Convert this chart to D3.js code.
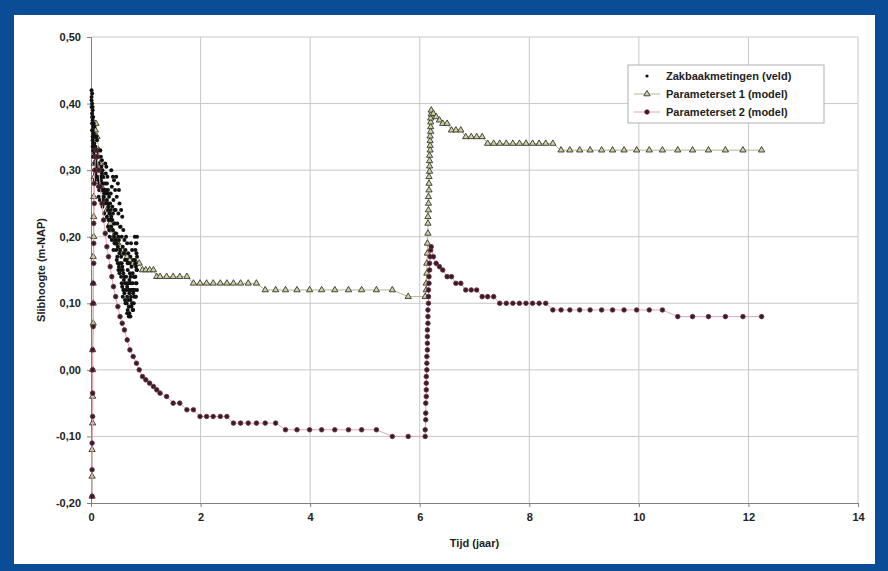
<!DOCTYPE html>
<html>
<head>
<meta charset="utf-8">
<script src="https://d3js.org/d3.v7.min.js"></script>
<style>
  body { margin: 0; background: #fff; }
  text { font-family: "Liberation Sans", Arial, sans-serif; font-weight: bold; fill: #222; }
</style>
</head>
<body>
<div id="chart"></div>
<script>
// tick values
var xTicks = [0, 2, 4, 6, 8, 10, 12, 14];
var yTicks = [-0.2, -0.1, 0, 0.1, 0.2, 0.3, 0.4, 0.5];

// Zakbaakmetingen (veld): [tijd, hoogte]
var field = [
  [0.01,0.42],[0.02,0.415],[0.01,0.405],[0.02,0.40],[0.03,0.39],[0.02,0.385],[0.03,0.375],[0.02,0.37],
  [0.03,0.36],[0.04,0.355],[0.03,0.35],[0.04,0.34],[0.04,0.33],[0.03,0.395],[0.04,0.38],
  [0.01,0.41],[0.01,0.395],[0.02,0.38],[0.02,0.36],[0.03,0.345],[0.03,0.335],[0.04,0.365],[0.04,0.32],
  [0.05,0.37],[0.06,0.365],[0.05,0.355],[0.07,0.35],[0.06,0.34],[0.08,0.335],[0.07,0.325],[0.05,0.32],
  [0.08,0.31],[0.09,0.30],[0.06,0.30],[0.09,0.29],[0.07,0.285],
  [0.05,0.34],[0.06,0.325],[0.07,0.31],[0.08,0.32],[0.09,0.315],[0.08,0.295],
  [0.10,0.35],[0.11,0.345],[0.12,0.33],[0.10,0.325],[0.13,0.32],[0.14,0.31],[0.11,0.305],[0.15,0.30],
  [0.12,0.29],[0.16,0.285],[0.13,0.275],[0.15,0.27],[0.14,0.26],[0.16,0.255],
  [0.10,0.31],[0.11,0.29],[0.12,0.31],[0.13,0.30],[0.14,0.285],[0.15,0.28],[0.16,0.27],
  [0.17,0.33],[0.18,0.32],[0.20,0.315],[0.19,0.305],[0.21,0.30],[0.22,0.29],[0.18,0.285],[0.23,0.28],
  [0.20,0.27],[0.24,0.265],[0.22,0.255],[0.25,0.25],[0.21,0.245],[0.24,0.235],[0.23,0.225],
  [0.17,0.30],[0.19,0.29],[0.20,0.295],[0.21,0.28],[0.22,0.27],[0.23,0.26],[0.25,0.27],
  [0.26,0.31],[0.28,0.305],[0.27,0.295],[0.30,0.29],[0.29,0.28],[0.31,0.27],[0.27,0.265],[0.33,0.26],
  [0.30,0.25],[0.32,0.245],[0.34,0.235],[0.29,0.23],[0.35,0.225],[0.31,0.215],[0.33,0.21],[0.34,0.20],
  [0.26,0.28],[0.28,0.27],[0.29,0.255],[0.30,0.265],[0.31,0.24],[0.32,0.225],
  [0.37,0.30],[0.40,0.29],[0.42,0.285],[0.38,0.275],[0.44,0.27],[0.36,0.265],[0.41,0.255],[0.39,0.245],
  [0.43,0.24],[0.37,0.23],[0.42,0.22],[0.40,0.21],[0.44,0.205],[0.38,0.195],[0.43,0.19],[0.41,0.18],
  [0.35,0.25],[0.36,0.24],[0.37,0.215],[0.39,0.225],[0.40,0.235],[0.42,0.20],[0.44,0.22],
  [0.46,0.29],[0.49,0.28],[0.51,0.27],[0.47,0.26],[0.52,0.25],[0.45,0.24],[0.50,0.235],[0.48,0.22],
  [0.53,0.215],[0.46,0.205],[0.51,0.195],[0.49,0.185],[0.52,0.175],[0.47,0.165],[0.53,0.16],[0.50,0.15],
  [0.45,0.195],[0.46,0.18],[0.47,0.19],[0.48,0.17],[0.49,0.16],[0.50,0.20],[0.51,0.155],[0.52,0.145],[0.53,0.18],
  [0.55,0.24],[0.57,0.23],[0.54,0.215],[0.59,0.21],[0.56,0.20],[0.61,0.195],[0.58,0.185],[0.60,0.175],
  [0.55,0.17],[0.62,0.165],[0.57,0.155],[0.59,0.145],[0.61,0.14],[0.56,0.13],[0.60,0.12],[0.58,0.11],[0.62,0.105],
  [0.54,0.15],[0.55,0.14],[0.56,0.16],[0.57,0.125],[0.58,0.15],[0.59,0.12],[0.60,0.135],[0.61,0.115],[0.62,0.13],
  [0.64,0.20],[0.66,0.19],[0.63,0.18],[0.68,0.175],[0.65,0.165],[0.70,0.16],[0.67,0.15],[0.71,0.145],
  [0.64,0.14],[0.69,0.13],[0.66,0.125],[0.70,0.115],[0.68,0.105],[0.65,0.10],[0.71,0.095],[0.67,0.09],[0.69,0.08],
  [0.63,0.10],[0.64,0.12],[0.65,0.13],[0.66,0.11],[0.67,0.16],[0.68,0.12],[0.69,0.095],[0.70,0.135],[0.71,0.12],
  [0.70,0.085],[0.66,0.085],
  [0.73,0.19],[0.75,0.18],[0.72,0.17],[0.77,0.165],[0.74,0.155],[0.76,0.145],[0.78,0.14],[0.73,0.13],
  [0.75,0.12],[0.77,0.115],[0.72,0.105],[0.74,0.095],[0.76,0.09],[0.78,0.10],
  [0.72,0.14],[0.73,0.11],[0.74,0.12],[0.75,0.10],[0.76,0.13],[0.77,0.09],[0.78,0.12],[0.72,0.08],
  [0.80,0.20],[0.82,0.19],[0.81,0.18],[0.83,0.175],[0.80,0.165],[0.82,0.155],[0.84,0.15],[0.81,0.14],
  [0.83,0.13],[0.80,0.12],[0.82,0.11],
  [0.79,0.11],[0.80,0.14],[0.81,0.16],[0.82,0.13],[0.83,0.15],[0.84,0.17],[0.84,0.12],[0.83,0.19],[0.84,0.20]
];

// Parameterset 1 (model)
var ps1 = [
  [0.02,-0.19],[0.02,-0.16],[0.02,-0.12],[0.03,-0.08],[0.03,-0.04],[0.03,0.00],[0.03,0.03],[0.04,0.07],
  [0.04,0.10],[0.04,0.13],[0.04,0.17],[0.05,0.20],[0.05,0.23],[0.05,0.26],[0.06,0.29],[0.06,0.31],
  [0.07,0.33],[0.07,0.35],[0.08,0.36],[0.09,0.37],
  [0.11,0.35],[0.14,0.33],[0.17,0.31],[0.20,0.29],[0.23,0.27],[0.26,0.255],[0.29,0.24],[0.32,0.23],
  [0.35,0.22],[0.38,0.21],[0.41,0.20],[0.45,0.195],[0.49,0.19],[0.53,0.185],[0.57,0.18],[0.61,0.175],
  [0.66,0.17],[0.71,0.165],[0.77,0.16],[0.83,0.16],[0.88,0.16],[0.94,0.15],[1.00,0.15],[1.07,0.15],
  [1.14,0.15],[1.20,0.14],[1.26,0.14],[1.38,0.14],[1.50,0.14],[1.62,0.14],[1.75,0.14],
  [1.87,0.13],[1.99,0.13],[2.11,0.13],[2.23,0.13],[2.36,0.13],[2.48,0.13],[2.60,0.13],[2.73,0.13],
  [2.87,0.13],[3.02,0.13],
  [3.18,0.12],[3.37,0.12],[3.55,0.12],[3.76,0.12],[3.99,0.12],[4.21,0.12],[4.45,0.12],[4.70,0.12],
  [4.94,0.12],[5.21,0.12],[5.50,0.12],[5.79,0.11],[6.10,0.11],
  [6.12,0.12],[6.12,0.13],[6.13,0.145],[6.13,0.16],[6.14,0.175],[6.14,0.19],[6.15,0.205],[6.15,0.22],
  [6.15,0.23],[6.16,0.24],[6.16,0.25],[6.16,0.26],[6.17,0.27],[6.17,0.28],[6.17,0.29],[6.18,0.298],
  [6.18,0.306],[6.18,0.314],[6.18,0.322],[6.19,0.33],[6.19,0.337],[6.19,0.344],[6.19,0.351],[6.20,0.358],
  [6.20,0.365],[6.20,0.372],[6.20,0.378],[6.21,0.384],[6.21,0.39],
  [6.25,0.385],[6.30,0.38],[6.36,0.375],[6.42,0.37],[6.50,0.37],[6.58,0.36],[6.66,0.36],[6.75,0.36],
  [6.84,0.35],[6.94,0.35],[7.04,0.35],[7.14,0.35],[7.24,0.34],[7.35,0.34],[7.46,0.34],[7.58,0.34],
  [7.70,0.34],[7.82,0.34],[7.94,0.34],[8.06,0.34],[8.18,0.34],[8.30,0.34],[8.43,0.34],
  [8.58,0.33],[8.74,0.33],[8.92,0.33],[9.11,0.33],[9.32,0.33],[9.52,0.33],[9.73,0.33],[9.96,0.33],
  [10.19,0.33],[10.43,0.33],[10.71,0.33],[10.98,0.33],[11.27,0.33],[11.58,0.33],[11.90,0.33],[12.24,0.33]
];

// Parameterset 2 (model)
var ps2 = [
  [0.02,-0.19],[0.02,-0.15],[0.02,-0.11],[0.03,-0.07],[0.03,-0.035],[0.03,0.00],[0.03,0.03],[0.04,0.065],
  [0.04,0.10],[0.04,0.13],[0.05,0.16],[0.05,0.19],[0.05,0.22],[0.06,0.25],[0.06,0.28],[0.07,0.30],
  [0.08,0.32],[0.09,0.33],
  [0.11,0.32],[0.14,0.30],[0.17,0.275],[0.20,0.25],[0.23,0.225],[0.26,0.205],[0.29,0.185],[0.32,0.17],
  [0.35,0.155],[0.38,0.14],[0.41,0.125],[0.45,0.11],[0.49,0.095],[0.53,0.08],[0.57,0.07],[0.61,0.06],
  [0.66,0.045],[0.71,0.03],[0.77,0.02],[0.83,0.01],[0.88,0.00],[0.94,-0.01],[1.00,-0.015],[1.07,-0.02],
  [1.14,-0.025],[1.20,-0.03],[1.26,-0.035],[1.38,-0.04],[1.50,-0.05],[1.62,-0.05],[1.75,-0.06],[1.87,-0.06],
  [1.99,-0.07],[2.11,-0.07],[2.23,-0.07],[2.36,-0.07],[2.48,-0.07],[2.60,-0.08],[2.73,-0.08],[2.87,-0.08],
  [3.02,-0.08],[3.18,-0.08],[3.37,-0.08],[3.55,-0.09],[3.76,-0.09],[3.99,-0.09],[4.21,-0.09],[4.45,-0.09],
  [4.70,-0.09],[4.94,-0.09],[5.21,-0.09],[5.50,-0.10],[5.79,-0.10],[6.10,-0.10],
  [6.10,-0.09],[6.11,-0.075],[6.11,-0.065],[6.11,-0.05],[6.12,-0.04],[6.12,-0.03],[6.12,-0.02],[6.12,-0.01],
  [6.13,0.00],[6.13,0.01],[6.13,0.02],[6.14,0.03],[6.14,0.04],[6.14,0.05],[6.14,0.06],[6.15,0.07],
  [6.15,0.08],[6.15,0.09],[6.16,0.10],[6.16,0.11],[6.16,0.12],[6.17,0.13],[6.17,0.14],[6.18,0.15],
  [6.18,0.16],[6.19,0.17],[6.20,0.18],[6.21,0.185],
  [6.25,0.17],[6.30,0.16],[6.36,0.155],[6.42,0.15],[6.50,0.14],[6.58,0.14],[6.66,0.13],[6.75,0.13],
  [6.84,0.12],[6.94,0.12],[7.04,0.12],[7.14,0.11],[7.24,0.11],[7.35,0.11],[7.46,0.10],[7.58,0.10],
  [7.70,0.10],[7.82,0.10],[7.94,0.10],[8.06,0.10],[8.18,0.10],[8.30,0.10],[8.43,0.09],[8.58,0.09],
  [8.74,0.09],[8.92,0.09],[9.11,0.09],[9.32,0.09],[9.52,0.09],[9.73,0.09],[9.96,0.09],[10.19,0.09],
  [10.43,0.09],[10.71,0.08],[10.98,0.08],[11.27,0.08],[11.58,0.08],[11.90,0.08],[12.24,0.08]
];

var legendNames = ["Zakbaakmetingen (veld)", "Parameterset 1 (model)", "Parameterset 2 (model)"];

var W = 888, H = 571;
var margin = {top: 37, right: 30, bottom: 68, left: 91},
    width = W - margin.left - margin.right,
    height = H - margin.top - margin.bottom;

var root = d3.select("#chart").append("svg")
    .attr("width", W)
    .attr("height", H);

// blue frame
root.append("rect").attr("width", W).attr("height", H).attr("fill", "#0b4c97");
root.append("rect").attr("x", 14).attr("y", 15).attr("width", 861).attr("height", 549).attr("fill", "#fff");

var svg = root.append("g")
    .attr("transform", "translate(" + margin.left + "," + margin.top + ")");

var x = d3.scaleLinear().domain([0, 14]).range([0, width]);
var y = d3.scaleLinear().domain([-0.2, 0.5]).range([height, 0]);

var fmt = function(d) { return d.toFixed(2).replace(".", ","); };

// grid
svg.append("g").selectAll("line").data(xTicks.slice(1)).enter().append("line")
    .attr("x1", function(d) { return x(d); }).attr("x2", function(d) { return x(d); })
    .attr("y1", 0).attr("y2", height)
    .attr("stroke", "#c8c8c8").attr("stroke-width", 1);
svg.append("g").selectAll("line").data(yTicks.slice(1)).enter().append("line")
    .attr("x1", 0).attr("x2", width)
    .attr("y1", function(d) { return y(d); }).attr("y2", function(d) { return y(d); })
    .attr("stroke", "#c8c8c8").attr("stroke-width", 1);

// axes
var xAxis = svg.append("g")
    .attr("transform", "translate(0," + height + ")")
    .call(d3.axisBottom(x).tickValues(xTicks).tickSize(4).tickPadding(6).tickFormat(d3.format("d")));
var yAxis = svg.append("g")
    .call(d3.axisLeft(y).tickValues(yTicks).tickSize(4).tickPadding(6).tickFormat(fmt));
[xAxis, yAxis].forEach(function(a) {
  a.select(".domain").attr("stroke", "#808080");
  a.selectAll(".tick line").attr("stroke", "#808080");
  a.selectAll("text").style("font-size", "11px").style("font-family", "Liberation Sans, Arial, sans-serif")
    .style("font-weight", "bold").attr("fill", "#222");
});

svg.append("text")
    .attr("x", width / 2).attr("y", height + 44)
    .attr("text-anchor", "middle").style("font-size", "11px")
    .text("Tijd (jaar)");
svg.append("text")
    .attr("transform", "translate(-46," + (height / 2) + ") rotate(-90)")
    .attr("text-anchor", "middle").style("font-size", "11px")
    .text("Slibhoogte (m-NAP)");

var plot = svg.append("g");

var line = d3.line().x(function(d) { return x(d[0]); }).y(function(d) { return y(d[1]); });
var tri = d3.symbol().type(d3.symbolTriangle).size(17);

var ps1Fill = "#d0d49c", ps1Line = "#b4b494";
var ps2Fill = "#3a1c26", ps2Stroke = "#6a3040", ps2Line = "#e0a8b4";

// parameterset 1
plot.append("path").datum(ps1).attr("d", line)
    .attr("fill", "none").attr("stroke", ps1Line).attr("stroke-width", 1);
plot.selectAll(".ps1").data(ps1).enter().append("path")
    .attr("class", "ps1")
    .attr("d", tri)
    .attr("transform", function(d) { return "translate(" + x(d[0]) + "," + y(d[1]) + ")"; })
    .attr("fill", ps1Fill).attr("stroke", "#333").attr("stroke-width", 0.9);

// field data
plot.selectAll(".veld").data(field).enter().append("circle")
    .attr("class", "veld")
    .attr("cx", function(d) { return x(d[0]); })
    .attr("cy", function(d) { return y(d[1]); })
    .attr("r", 2)
    .attr("fill", "#111");

// parameterset 2
plot.append("path").datum(ps2).attr("d", line)
    .attr("fill", "none").attr("stroke", ps2Line).attr("stroke-width", 1);
plot.selectAll(".ps2").data(ps2).enter().append("circle")
    .attr("class", "ps2")
    .attr("cx", function(d) { return x(d[0]); })
    .attr("cy", function(d) { return y(d[1]); })
    .attr("r", 2.3)
    .attr("fill", ps2Fill).attr("stroke", ps2Stroke).attr("stroke-width", 0.8);

// legend
var lg = root.append("g").attr("transform", "translate(628,65)");
lg.append("rect").attr("width", 196).attr("height", 58)
    .attr("fill", "#fff").attr("stroke", "#b0b0b0");
var rows = lg.selectAll(".row").data(legendNames).enter().append("g")
    .attr("transform", function(d, i) { return "translate(0," + (11 + i * 18) + ")"; });
rows.append("text").attr("x", 38).attr("y", 4).style("font-size", "11px").text(function(d) { return d; });
rows.filter(function(d, i) { return i > 0; }).append("line")
    .attr("x1", 6).attr("x2", 32).attr("y1", 0).attr("y2", 0)
    .attr("stroke", function(d, i) { return i === 0 ? ps1Line : ps2Line; });
rows.each(function(d, i) {
  var g = d3.select(this);
  if (i === 0) g.append("circle").attr("cx", 19).attr("cy", 0).attr("r", 1.6).attr("fill", "#111");
  if (i === 1) g.append("path").attr("d", tri).attr("transform", "translate(19,0)")
      .attr("fill", ps1Fill).attr("stroke", "#333").attr("stroke-width", 0.9);
  if (i === 2) g.append("circle").attr("cx", 19).attr("cy", 0).attr("r", 2.3)
      .attr("fill", ps2Fill).attr("stroke", ps2Stroke).attr("stroke-width", 0.8);
});
</script>
</body>
</html>
